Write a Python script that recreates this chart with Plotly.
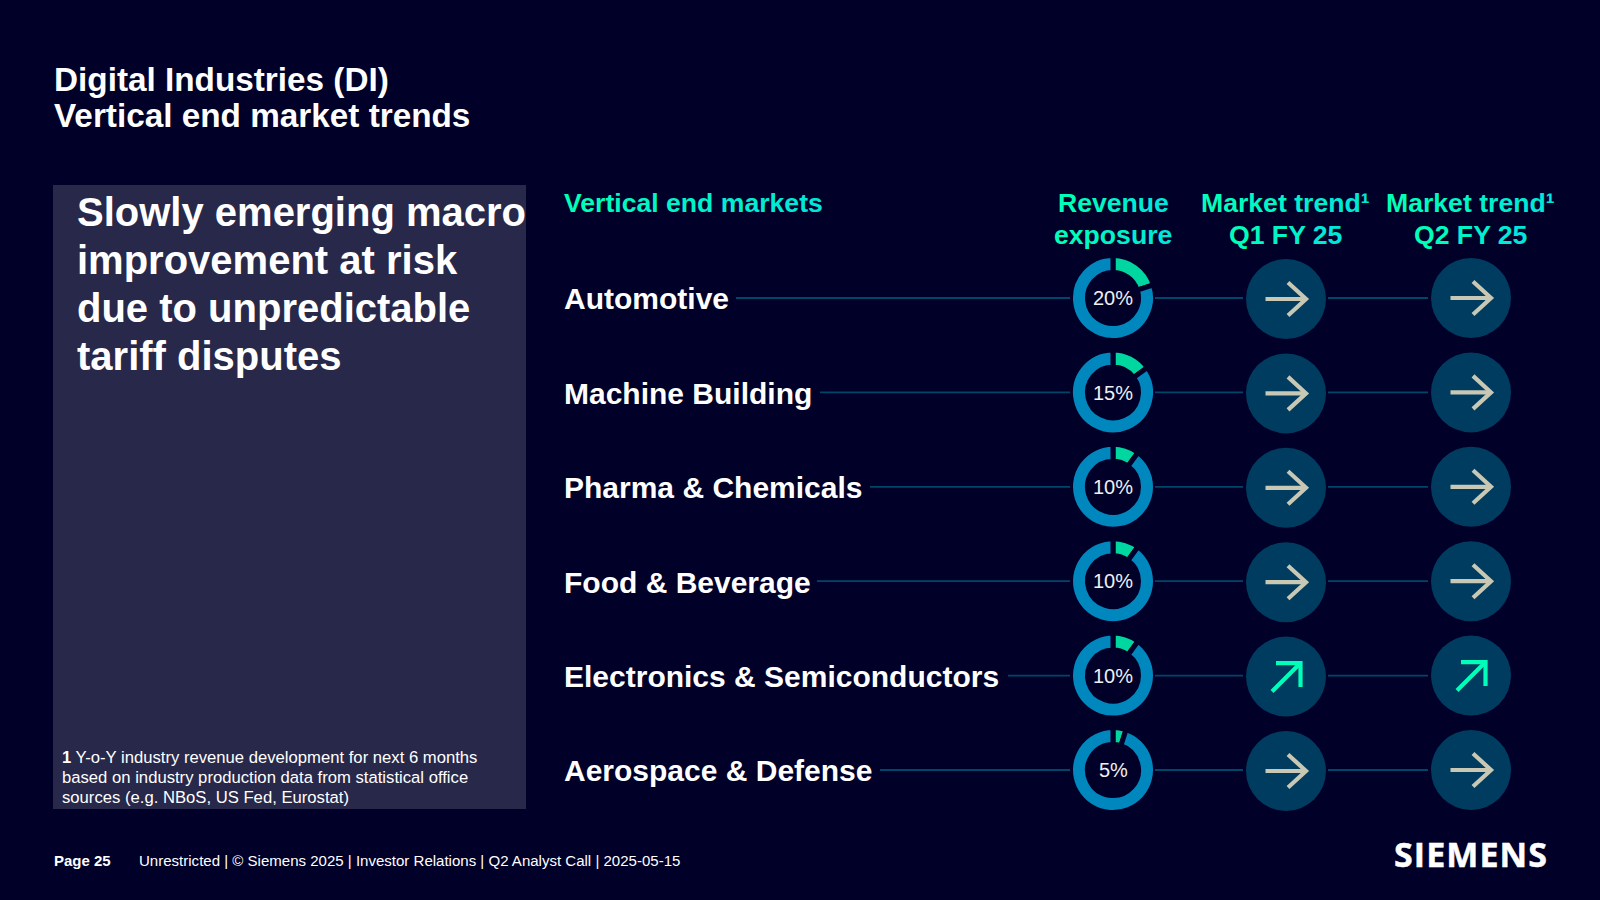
import plotly.graph_objects as go

# data
markets = ["Automotive", "Machine Building", "Pharma & Chemicals", "Food & Beverage",
           "Electronics & Semiconductors", "Aerospace & Defense"]
revenue_exposure = [20, 15, 10, 10, 10, 5]
trend_q1 = ["flat", "flat", "flat", "flat", "up", "flat"]
trend_q2 = ["flat", "flat", "flat", "flat", "up", "flat"]

title_lines = ["Digital Industries (DI)", "Vertical end market trends"]
message_lines = ["Slowly emerging macro", "improvement at risk", "due to unpredictable", "tariff disputes"]
footnote_lines = ["<b>1</b> Y-o-Y industry revenue development for next 6 months",
                  "based on industry production data from statistical office",
                  "sources (e.g. NBoS, US Fed, Eurostat)"]
footer_text = "Unrestricted | © Siemens 2025 | Investor Relations | Q2 Analyst Call | 2025-05-15"

# layout, all in page pixels
W, H = 1600, 900
BG = "#000028"
PANEL = "#28284A"
BLUE = "#0087BE"
GREEN = "#00D7A0"
CIRCLE = "#003C5F"
LINE = "#004669"
SAND = "#C8C8B4"
MINT = "#00FFB9"
FONT = "Liberation Sans"

first_row, row_step = 298, 94.4
donut_x, q1_x, q2_x = 1113, 1286, 1471
line_start = [736, 820, 870, 817, 1008, 880]  # where the connector starts, after each label

# arrow outlines relative to the circle centre: shaft, then head
arrow_paths = {
    "flat": ([-20.5, 20, None, 2, 20, 2], [0, 0, None, -16.5, 0, 16.5], SAND),
    "up": ([-14, 14.5, None, -10, 14.5, 14.5], [15, -13.5, None, -13.5, -13.5, 10.5], MINT),
}


def gradient(text, c0=(0, 255, 185), c1=(0, 230, 220)):
    # spans per word piece, the slide headers fade from green to teal
    out = []
    n = max(len(text) - 1, 1)
    i = 0
    while i < len(text):
        piece = text[i]
        # a space stays with the letter in front of it
        while piece.endswith(" ") and i + 1 < len(text):
            i += 1
            piece += text[i]
        t = i / n
        col = [round(a + (b - a) * t) for a, b in zip(c0, c1)]
        out.append(f"<span style='color:rgb({col[0]},{col[1]},{col[2]})'>{piece}</span>")
        i += 1
    return "".join(out)


def label(x, y, text, size, color="white", bold=False, anchor="left", family=FONT):
    if bold:
        text = f"<b>{text}</b>"
    fig.add_annotation(x=x, y=y, xref="x", yref="y", text=text, showarrow=False,
                       xanchor=anchor, yanchor="middle", align=anchor,
                       font=dict(family=family, size=size, color=color),
                       borderpad=0, borderwidth=0)


fig = go.Figure()

fig.add_shape(type="rect", x0=53, x1=526, y0=185, y1=809, fillcolor=PANEL, line_width=0, layer="below")

rows = [first_row + i * row_step for i in range(len(markets))]

# connector lines, as shapes so they stay over the donut outline
for i, y in enumerate(rows):
    for x0, x1 in [(line_start[i], 1070), (1155, 1243), (1328, 1428)]:
        fig.add_shape(type="line", x0=x0, x1=x1, y0=y, y1=y, layer="above",
                      line=dict(color=LINE, width=1.8))

# trend circles and arrows
for cx, trends, dy in [(q1_x, trend_q1, 1), (q2_x, trend_q2, 0)]:
    ys = [y + dy for y in rows]
    fig.add_trace(go.Scatter(x=[cx] * len(rows), y=ys, mode="markers", hoverinfo="skip",
                             marker=dict(size=80, color=CIRCLE, line_width=0)))
    for trend, y in zip(trends, ys):
        px, py, col = arrow_paths[trend]
        fig.add_trace(go.Scatter(x=[None if v is None else cx + v for v in px],
                                 y=[None if v is None else y + v for v in py],
                                 mode="lines", hoverinfo="skip",
                                 line=dict(color=col, width=4.2)))

# revenue donuts
R = 42.5
for pct, y in zip(revenue_exposure, rows):
    fig.add_trace(go.Pie(values=[pct, 100 - pct], sort=False, direction="clockwise", rotation=0,
                         hole=0.6, textinfo="none", hoverinfo="skip", showlegend=False,
                         marker=dict(colors=[GREEN, BLUE], line=dict(color=BG, width=5)),
                         domain=dict(x=[(donut_x - R) / W, (donut_x + R) / W],
                                     y=[1 - (y + R) / H, 1 - (y - R) / H])))
    label(donut_x, y + 0.2, f"{pct}%", 20, color="#F0F0F0", anchor="center")

# row labels
for name, y in zip(markets, rows):
    label(564, y + 0.8, name, 30, bold=True)

# column headers
head = 26.6
label(564, 202.5, gradient("Vertical end markets"), head, bold=True)
label(donut_x, 202.5, gradient("Revenue"), head, bold=True, anchor="center")
label(donut_x, 234.5, gradient("exposure"), head, bold=True, anchor="center")
for cx, q in [(q1_x - 1, "Q1 FY 25"), (q2_x - 1, "Q2 FY 25")]:
    label(cx, 202.5, gradient("Market trend¹"), head, bold=True, anchor="center")
    label(cx + 0.7, 234.5, gradient(q), head, bold=True, anchor="center")

# title, panel text, footer
for i, line in enumerate(title_lines):
    label(54, 79 + i * 36, line, 33.3, bold=True)
for i, line in enumerate(message_lines):
    label(77, 212.3 + i * 48, line, 40, bold=True)
for i, line in enumerate(footnote_lines):
    label(62, 757 + i * 20, line, 16.67)
label(54, 860.3, "Page 25", 15, bold=True)
label(139, 860.3, footer_text, 15.04)
label(1394, 854, "<span style='letter-spacing:1.1px;stroke:white;stroke-width:0.5px'>SIEMENS</span>",
      34, bold=True, family="Open Sans")

fig.update_xaxes(range=[0, W], visible=False, fixedrange=True)
fig.update_yaxes(range=[H, 0], visible=False, fixedrange=True)
fig.update_layout(width=W, height=H, margin=dict(l=0, r=0, t=0, b=0), showlegend=False,
                  paper_bgcolor=BG, plot_bgcolor=BG)

fig.write_html("out.html", config=dict(displayModeBar=False),
               post_script=f"document.body.style.margin='0';document.body.style.background='{BG}';")
